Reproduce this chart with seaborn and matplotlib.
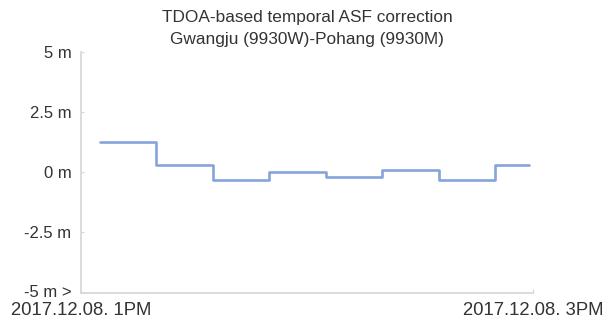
import matplotlib
matplotlib.use("Agg")
import matplotlib.pyplot as plt
import matplotlib.dates as mdates
import seaborn as sns
import pandas as pd

# Data
times = ["2017-12-08 13:05", "2017-12-08 13:20", "2017-12-08 13:35", "2017-12-08 13:50",
         "2017-12-08 14:05", "2017-12-08 14:20", "2017-12-08 14:35", "2017-12-08 14:50",
         "2017-12-08 14:59"]
asf_m = [1.27, 0.32, -0.31, 0.0, -0.18, 0.08, -0.33, 0.30, 0.30]
y_ticks = [-5, -2.5, 0, 2.5, 5]
y_tick_labels = ["-5 m >", "-2.5 m", "0 m", "2.5 m", "5 m"]
x_limits = ["2017-12-08 13:00", "2017-12-08 15:00"]
x_tick_labels = ["2017.12.08. 1PM", "2017.12.08. 3PM"]
title_lines = ["TDOA-based temporal ASF correction", "Gwangju (9930W)-Pohang (9930M)"]

sns.set_style("white")
plt.rcParams["font.family"] = ["Liberation Sans", "DejaVu Sans"]

df = pd.DataFrame({"time": pd.to_datetime(times), "asf": asf_m})

fig = plt.figure(figsize=(6.10, 3.22), dpi=100)
ax = fig.add_axes([81 / 610, 1 - 292.5 / 322, (533 - 81) / 610, (292.5 - 52) / 322])

sns.lineplot(data=df, x="time", y="asf", ax=ax, color="#86a3dc", linewidth=1.9,
             drawstyle="steps-post")

xl = pd.to_datetime(x_limits)
ax.set_xlim(mdates.date2num(xl[0]), mdates.date2num(xl[1]))
ax.set_xticks([mdates.date2num(xl[0]), mdates.date2num(xl[1])])
ax.set_xticklabels(x_tick_labels)
ax.set_ylim(-5, 5)
ax.set_yticks(y_ticks)
ax.set_yticklabels(y_tick_labels)
ax.set_xlabel("")
ax.set_ylabel("")

for s in ["top", "right"]:
    ax.spines[s].set_visible(False)
for s in ["left", "bottom"]:
    ax.spines[s].set_color("#d6d6d6")
    ax.spines[s].set_linewidth(1.2)

ax.tick_params(axis="y", direction="in", length=2, color="#d6d6d6", pad=7,
               labelsize=12, labelcolor="#333333", left=True)
ax.tick_params(axis="x", direction="in", length=3, color="#d6d6d6", pad=7,
               labelsize=13.3, labelcolor="#333333", bottom=True)
# nudge the lowest y label up slightly, as in the reference
ax.get_yticklabels()[0].set_va("center")

fig.text(307 / 610, 1 - 17.5 / 322, title_lines[0], ha="center", va="center",
         fontsize=12.4, color="#333333")
fig.text(307 / 610, 1 - 39.5 / 322, title_lines[1], ha="center", va="center",
         fontsize=12.4, color="#333333")

fig.savefig("out.png", dpi=100)
